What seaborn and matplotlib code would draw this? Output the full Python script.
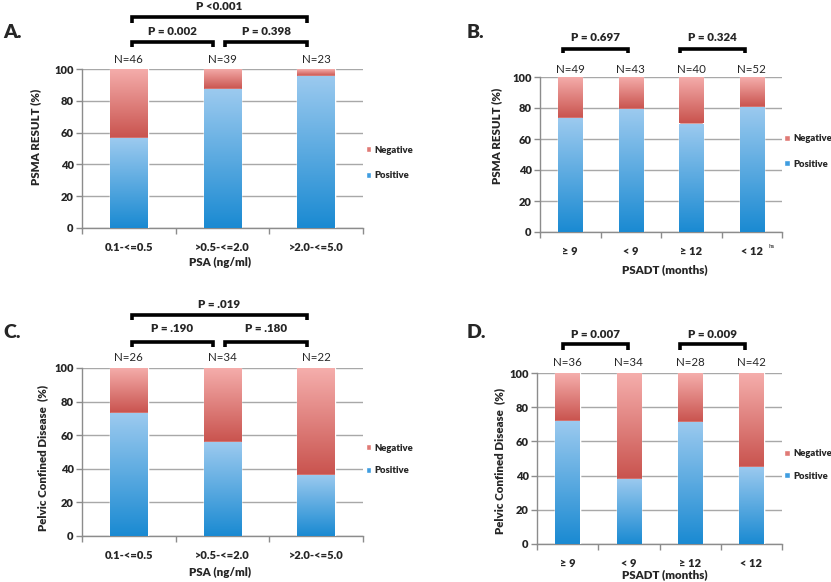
import numpy as np
import pandas as pd
import matplotlib
matplotlib.use("Agg")
import matplotlib.pyplot as plt
import seaborn as sns
from matplotlib.colors import LinearSegmentedColormap
from matplotlib.patches import Patch
from matplotlib.ticker import FixedLocator

# ---------------- data ----------------
psa_cats = ["0.1-<=0.5", ">0.5-<=2.0", ">2.0-<=5.0"]
psadt_cats = ["≥ 9", "< 9", "≥ 12", "< 12"]

a_pos = [56.5, 87.2, 95.7]
a_n = [46, 39, 23]
a_p = ["P = 0.002", "P = 0.398", "P <0.001"]

b_pos = [73.5, 79.1, 70.0, 80.8]
b_n = [49, 43, 40, 52]
b_p = ["P = 0.697", "P = 0.324"]

c_pos = [73.1, 55.9, 36.4]
c_n = [26, 34, 22]
c_p = ["P = .190", "P = .180", "P = .019"]

d_pos = [72.2, 38.2, 71.4, 45.2]
d_n = [36, 34, 28, 42]
d_p = ["P = 0.007", "P = 0.009"]

ylab_psma = "PSMA RESULT (%)"
ylab_pelvic = "Pelvic Confined Disease  (%)"
xlab_psa = "PSA (ng/ml)"
xlab_psadt = "PSADT (months)"

# ---------------- style ----------------
sns.set_theme(style="white")
plt.rcParams["font.family"] = ["Lato", "DejaVu Sans"]
BOLD = "heavy"

W, H = 831, 582
fig = plt.figure(figsize=(W / 100, H / 100), dpi=100)
fig.patch.set_facecolor("white")

pos_cmap = LinearSegmentedColormap.from_list("pos", ["#1a8ad2", "#9ccaef"])
neg_cmap = LinearSegmentedColormap.from_list("neg", ["#c9534e", "#f5aeac"])
POS_MID = "#3f9de0"
NEG_MID = "#e07a76"
GRID = "#a8a8a8"


def px_axes(l, r, t, b):
    return fig.add_axes([l / W, 1 - b / H, (r - l) / W, (b - t) / H])


def draw_panel(ax, cats, pos, ns, ylabel, xlabel, ylab_pos, xlab_pos,
               n_y, leg_center, leg_space):
    df = pd.DataFrame({"cat": cats, "pos": pos, "total": [100.0] * len(cats)})
    n0 = len(ax.patches)
    sns.barplot(data=df, x="cat", y="total", color=NEG_MID, width=0.4,
                ax=ax, zorder=2, order=cats)
    neg_patches = ax.patches[n0:]
    n1 = len(ax.patches)
    sns.barplot(data=df, x="cat", y="pos", color=POS_MID, width=0.4,
                ax=ax, zorder=3, order=cats)
    pos_patches = ax.patches[n1:]
    grad = np.linspace(0, 1, 256).reshape(-1, 1)
    for p, v in zip(neg_patches, pos):
        x0, w = p.get_x(), p.get_width()
        im = ax.imshow(grad, extent=[x0, x0 + w, v, 100], origin="lower",
                       aspect="auto", cmap=neg_cmap, zorder=2.5)
        im.set_clip_path(p)
    for p, v in zip(pos_patches, pos):
        x0, w = p.get_x(), p.get_width()
        im = ax.imshow(grad, extent=[x0, x0 + w, 0, v], origin="lower",
                       aspect="auto", cmap=pos_cmap, zorder=3.5)
        im.set_clip_path(p)

    nc = len(cats)
    ax.set_xlim(-0.5, nc - 0.5)
    ax.set_ylim(0, 100)
    ax.set_yticks([0, 20, 40, 60, 80, 100])
    ax.yaxis.grid(True, color=GRID, lw=1)
    ax.xaxis.grid(False)
    ax.set_axisbelow(True)
    for s in ["top", "right"]:
        ax.spines[s].set_visible(False)
    for s in ["left", "bottom"]:
        ax.spines[s].set_color("#8c8c8c")
        ax.spines[s].set_linewidth(1)
    ax.tick_params(axis="y", length=4, width=1, color="#8c8c8c", pad=2,
                   labelsize=8, left=True)
    ax.tick_params(axis="x", which="major", length=0, pad=10, labelsize=8)
    ax.xaxis.set_minor_locator(FixedLocator(np.arange(-0.5, nc, 1.0)))
    ax.tick_params(axis="x", which="minor", length=4, width=1,
                   color="#8c8c8c", bottom=True)
    for t in ax.get_xticklabels() + ax.get_yticklabels():
        t.set_fontweight(BOLD)
    ax.set_xlabel(xlabel, fontsize=8.3, fontweight=BOLD)
    ax.set_ylabel(ylabel, fontsize=8.3, fontweight=BOLD)
    ax.yaxis.set_label_coords(*ylab_pos)
    ax.xaxis.set_label_coords(*xlab_pos)

    for i, n in enumerate(ns):
        ax.text(i, n_y, f"N={n}", ha="center", va="center", fontsize=8.3,
                clip_on=False)

    handles = [Patch(facecolor=NEG_MID, label="Negative"),
               Patch(facecolor=POS_MID, label="Positive")]
    ax.legend(handles=handles, loc="center left",
              bbox_to_anchor=(1.01, leg_center), frameon=False,
              prop={"weight": BOLD, "size": 6.8}, handlelength=0.6,
              handleheight=0.6, handletextpad=0.3, borderpad=0,
              borderaxespad=0, labelspacing=leg_space)


def bracket(ax, x0, x1, y, leg, text, ty):
    ax.plot([x0, x0, x1, x1], [y - leg, y, y, y - leg], color="black",
            lw=2.6, clip_on=False, solid_joinstyle="miter",
            solid_capstyle="butt", zorder=5)
    ax.text((x0 + x1) / 2, ty, text, ha="center", va="center",
            fontsize=8.3, fontweight=BOLD, clip_on=False)


# ---------- Panel A ----------
axA = px_axes(82, 363, 69, 228)
draw_panel(axA, psa_cats, a_pos, a_n, ylab_psma, xlab_psa,
           (-0.146, 0.57), (0.49, -0.182), 105.7, 0.41, 1.75)
bracket(axA, 0.03, 0.9, 117.0, 3.2, a_p[0], 123.3)
bracket(axA, 1.03, 1.9, 117.0, 3.2, a_p[1], 123.3)
bracket(axA, 0.03, 1.9, 132.7, 3.8, a_p[2], 139.3)

# ---------- Panel B ----------
axB = px_axes(540, 782, 77, 232)
draw_panel(axB, psadt_cats, b_pos, b_n, ylab_psma, xlab_psadt,
           (-0.157, 0.62), (0.517, -0.205), 104.7, 0.52, 1.75)
bracket(axB, -0.12, 0.95, 118.3, 2.8, b_p[0], 125.4)
bracket(axB, 1.81, 2.89, 118.3, 2.8, b_p[1], 125.4)

# ---------- Panel C ----------
axC = px_axes(82, 363, 368, 536)
draw_panel(axC, psa_cats, c_pos, c_n, ylab_pelvic, xlab_psa,
           (-0.122, 0.465), (0.49, -0.185), 106.5, 0.456, 1.45)
bracket(axC, 0.03, 0.9, 115.5, 3.0, c_p[0], 123.5)
bracket(axC, 1.03, 1.9, 115.5, 3.0, c_p[1], 123.5)
bracket(axC, 0.03, 1.9, 131.4, 2.6, c_p[2], 137.9)

# ---------- Panel D ----------
axD = px_axes(537, 782, 373, 544)
draw_panel(axD, psadt_cats, d_pos, d_n, ylab_pelvic, xlab_psadt,
           (-0.129, 0.487), (0.52, -0.144), 106.4, 0.463, 1.45)
bracket(axD, -0.075, 0.98, 117.1, 3.5, d_p[0], 122.7)
bracket(axD, 1.84, 2.90, 117.1, 3.5, d_p[1], 122.7)

# ---------- panel letters & stray text ----------
for lab, x, y in [("A.", 3, 32), ("B.", 467, 32), ("C.", 3, 333), ("D.", 467, 333)]:
    fig.text(x / W, 1 - y / H, lab, fontsize=14, fontweight=BOLD,
             ha="left", va="center")
fig.text(772 / W, 1 - 246 / H, "hs", fontsize=4.5, fontweight="bold",
         color="#555555", ha="center", va="center")

fig.savefig("out.png", dpi=100, facecolor="white")
